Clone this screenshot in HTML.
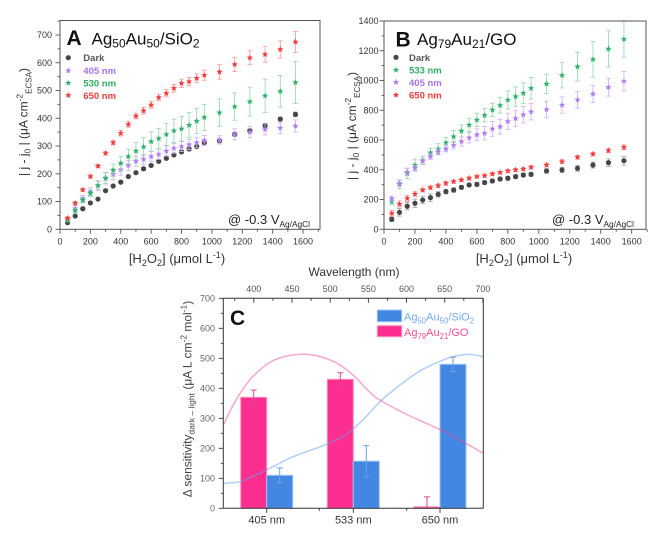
<!DOCTYPE html>
<html><head><meta charset="utf-8">
<style>
html,body{margin:0;padding:0;background:#fff;}
svg{display:block;font-family:"Liberation Sans",Arial,sans-serif;}
</style></head>
<body>
<svg id="s" xmlns="http://www.w3.org/2000/svg" width="667" height="539" viewBox="0 0 667 539">
<rect x="0" y="0" width="667" height="539" fill="#fff"/>
<g id="plots"></g>

<!-- Panel A frame -->
<rect x="60" y="20.5" width="260" height="208.8" fill="none" stroke="#555" stroke-width="1"/>
<!-- Panel B frame -->
<rect x="384" y="21" width="262" height="208.3" fill="none" stroke="#555" stroke-width="1"/>

<!-- Panel A texts -->
<text x="66.5" y="45" font-size="21" font-weight="bold" fill="#111">A</text>
<text x="91.5" y="44.3" font-size="17" fill="#111">Ag<tspan font-size="12" dy="3">50</tspan><tspan dy="-3">Au</tspan><tspan font-size="12" dy="3">50</tspan><tspan dy="-3">/SiO</tspan><tspan font-size="12" dy="3">2</tspan></text>
<g font-size="9.5" font-weight="bold">
<text x="83.3" y="61" fill="#555">Dark</text>
<text x="83.3" y="74" fill="#a874e8">405 nm</text>
<text x="83.3" y="86.5" fill="#2fae62">530 nm</text>
<text x="83.3" y="98.8" fill="#f03a3a">650 nm</text>
</g>
<text x="228" y="224" font-size="13" fill="#222">@ -0.3 V<tspan font-size="8.3" dy="3">Ag/AgCl</tspan></text>
<g font-size="9" fill="#333" text-anchor="end">
<text x="52" y="232.5">0</text><text x="52" y="204.7">100</text><text x="52" y="177">200</text><text x="52" y="149.2">300</text><text x="52" y="121.5">400</text><text x="52" y="93.7">500</text><text x="52" y="65.9">600</text><text x="52" y="38.2">700</text>
</g>
<g font-size="9" fill="#333" text-anchor="middle">
<text x="60" y="244.5">0</text><text x="90.4" y="244.5">200</text><text x="120.8" y="244.5">400</text><text x="151.1" y="244.5">600</text><text x="181.5" y="244.5">800</text><text x="211.9" y="244.5">1000</text><text x="242.3" y="244.5">1200</text><text x="272.7" y="244.5">1400</text><text x="303" y="244.5">1600</text>
</g>
<text x="177" y="263" font-size="13" fill="#333" text-anchor="middle">[H<tspan font-size="9" dy="3">2</tspan><tspan dy="-3">O</tspan><tspan font-size="9" dy="3">2</tspan><tspan dy="-3">] (μmol L</tspan><tspan font-size="9" dy="-5">-1</tspan><tspan dy="5">)</tspan></text>
<text transform="translate(27.5,122) rotate(-90)" font-size="12" fill="#333" text-anchor="middle">| j - j<tspan font-size="8.5" dy="3">0</tspan><tspan dy="-3"> | (μA cm</tspan><tspan font-size="8.5" dy="-5">-2</tspan><tspan font-size="8" dy="9">ECSA</tspan><tspan dy="-4">)</tspan></text>

<!-- Panel B texts -->
<text x="395.5" y="46.5" font-size="21" font-weight="bold" fill="#111">B</text>
<text x="417" y="45" font-size="17" fill="#111">Ag<tspan font-size="12" dy="3">79</tspan><tspan dy="-3">Au</tspan><tspan font-size="12" dy="3">21</tspan><tspan dy="-3">/GO</tspan></text>
<g font-size="9.5" font-weight="bold">
<text x="409" y="60.8" fill="#555">Dark</text>
<text x="409" y="73.5" fill="#2fae62">533 nm</text>
<text x="409" y="85.8" fill="#a874e8">405 nm</text>
<text x="409" y="98.5" fill="#f03a3a">650 nm</text>
</g>
<text x="552" y="224" font-size="13" fill="#222">@ -0.3 V<tspan font-size="8.3" dy="3">Ag/AgCl</tspan></text>
<g font-size="9" fill="#333" text-anchor="end">
<text x="378.5" y="232.5">0</text><text x="378.5" y="202.7">200</text><text x="378.5" y="173">400</text><text x="378.5" y="143.2">600</text><text x="378.5" y="113.5">800</text><text x="378.5" y="83.7">1000</text><text x="378.5" y="53.9">1200</text><text x="378.5" y="24.2">1400</text>
</g>
<g font-size="9" fill="#333" text-anchor="middle">
<text x="384" y="244.5">0</text><text x="415" y="244.5">200</text><text x="445.9" y="244.5">400</text><text x="476.9" y="244.5">600</text><text x="507.8" y="244.5">800</text><text x="538.8" y="244.5">1000</text><text x="569.8" y="244.5">1200</text><text x="600.7" y="244.5">1400</text><text x="631.7" y="244.5">1600</text>
</g>
<text x="524" y="263" font-size="13" fill="#333" text-anchor="middle">[H<tspan font-size="9" dy="3">2</tspan><tspan dy="-3">O</tspan><tspan font-size="9" dy="3">2</tspan><tspan dy="-3">] (μmol L</tspan><tspan font-size="9" dy="-5">-1</tspan><tspan dy="5">)</tspan></text>
<text transform="translate(356,126) rotate(-90)" font-size="12" fill="#333" text-anchor="middle">| j - j<tspan font-size="8.5" dy="3">0</tspan><tspan dy="-3"> | (μA cm</tspan><tspan font-size="8.5" dy="-5">-2</tspan><tspan font-size="8" dy="9">ECSA</tspan><tspan dy="-4">)</tspan></text>

<!-- Panel C texts -->
<text x="354" y="276" font-size="12" fill="#333" text-anchor="middle">Wavelength (nm)</text>
<g font-size="9" fill="#555" text-anchor="middle">
<text x="253.8" y="292">400</text><text x="292" y="292">450</text><text x="330.2" y="292">500</text><text x="368.4" y="292">550</text><text x="406.5" y="292">600</text><text x="444.7" y="292">650</text><text x="482.9" y="292">700</text>
</g>
<g font-size="9" fill="#666" text-anchor="end">
<text x="215" y="511.5">0</text><text x="215" y="481.5">100</text><text x="215" y="451.5">200</text><text x="215" y="421.5">300</text><text x="215" y="391.5">400</text><text x="215" y="361.5">500</text><text x="215" y="331.5">600</text><text x="215" y="301.5">700</text>
</g>
<g font-size="11" fill="#333" text-anchor="middle">
<text x="266.7" y="523.5">405 nm</text><text x="353.3" y="523.5">533 nm</text><text x="440" y="523.5">650 nm</text>
</g>
<text transform="translate(191.7,399) rotate(-90)" font-size="12" fill="#444" text-anchor="middle">Δ sensitivity<tspan font-size="8.5" dy="3">dark – light</tspan><tspan dy="-3"> (μA L cm</tspan><tspan font-size="8.5" dy="-5">-2</tspan><tspan dy="5"> mol</tspan><tspan font-size="8.5" dy="-5">-1</tspan><tspan dy="5">)</tspan></text>
<g id="cplot"></g>
<text x="230" y="325" font-size="21" font-weight="bold" fill="#111">C</text>
<rect x="377.3" y="310" width="24.4" height="11.7" fill="#4287e2" stroke="#9cc3f3" stroke-width="1"/>
<rect x="377.3" y="325.7" width="24.4" height="11" fill="#fc2e90" stroke="#ff8fc0" stroke-width="1"/>
<text x="404" y="320.3" font-size="11" fill="#72a9ee">Ag<tspan font-size="7.8" dy="3">50</tspan><tspan dy="-3">Au</tspan><tspan font-size="7.8" dy="3">50</tspan><tspan dy="-3">/SiO</tspan><tspan font-size="7.8" dy="3">2</tspan></text>
<text x="404" y="335.8" font-size="11" fill="#f0509c">Ag<tspan font-size="7.8" dy="3">79</tspan><tspan dy="-3">Au</tspan><tspan font-size="7.8" dy="3">21</tspan><tspan dy="-3">/GO</tspan></text>
</svg>
<script>
(function(){
var NS='http://www.w3.org/2000/svg';
var G=document.getElementById('plots');
var CG=document.getElementById('cplot');
function add(p,tag,a){var e=document.createElementNS(NS,tag);for(var k in a)e.setAttribute(k,a[k]);p.appendChild(e);return e;}
function ln(p,x1,y1,x2,y2,c,w){add(p,'line',{x1:x1,y1:y1,x2:x2,y2:y2,stroke:c,'stroke-width':w||1});}
function star(cx,cy,R,c){var pts=[];for(var i=0;i<10;i++){var a=(-90+i*36)*Math.PI/180;var r=i%2?R*0.42:R;pts.push((cx+r*Math.cos(a)).toFixed(2)+','+(cy+r*Math.sin(a)).toFixed(2));}add(G,'polygon',{points:pts.join(' '),fill:c});}
var xs=[];for(var u=50;u<=950;u+=50)xs.push(u);[1050,1150,1250,1350,1450,1550].forEach(function(v){xs.push(v);});
function series(X,Y,vals,errs,type,c,ec){
  vals.forEach(function(v,i){var x=X(xs[i]);var e=errs[i];var y1=Y(v+e),y2=Y(v-e);
    ln(G,x,y1,x,y2,ec,0.8);ln(G,x-2.4,y1,x+2.4,y1,ec,0.8);ln(G,x-2.4,y2,x+2.4,y2,ec,0.8);});
  vals.forEach(function(v,i){var x=X(xs[i]),y=Y(v);
    if(type==='c')add(G,'circle',{cx:x,cy:y,r:2.6,fill:c});else star(x,y,3.4,c);});
}
// Panel A
var AX=function(u){return 60+u*0.1519;},AY=function(v){return 229.3-v*0.2776;};
var aDark=[24,48,74,95,109,139,156,170,190,204,218,230,245,256,268,279,289,298,312,319,342,355,374,397,414];
var aDarkE=[3,4,4,4,4,4,4,4,4,4,4,4,4,4,4,5,5,5,5,6,6,6,7,7,8];
var aPur=[35,75,110,135,157,183,198,215,230,245,252,262,270,282,292,298,305,312,320,322,342,350,360,365,372];
var aPurE=[8,10,12,15,18,20,20,20,18,18,18,18,18,18,18,18,18,18,18,15,20,20,20,20,22];
var aGrn=[32,68,105,130,158,185,213,238,262,282,297,316,327,342,355,362,375,390,403,420,442,460,481,497,529];
var aGrnE=[5,8,10,12,15,20,22,25,27,30,33,35,37,40,42,44,45,46,47,49,49,52,60,57,76];
var aRed=[40,94,142,190,228,274,312,346,378,408,427,448,475,490,508,526,532,544,555,567,594,618,630,648,675];
var aRedE=[5,6,6,6,6,6,8,10,10,10,12,12,12,13,14,15,15,16,18,26,26,25,28,31,38];
series(AX,AY,aDark,aDarkE,'c','#464646','#a0a0a0');
series(AX,AY,aPur,aPurE,'s','#b07ef0','#cfaef5');
series(AX,AY,aGrn,aGrnE,'s','#2fb36a','#93d6ad');
series(AX,AY,aRed,aRedE,'s','#f23c3c','#f59a9a');
add(G,'circle',{cx:68.3,cy:57.7,r:2.6,fill:'#464646'});
star(68.3,70.7,3.4,'#b07ef0');star(68.3,83,3.4,'#2fb36a');star(68.3,95.3,3.4,'#f23c3c');
// Panel B
var BX=function(u){return 384+u*0.1548;},BY=function(v){return 229.3-v*0.1488;};
var bDark=[67,114,155,175,197,213,235,253,264,282,298,302,314,325,338,343,354,365,369,392,399,410,432,448,461];
var bDarkE=[15,25,25,28,25,25,18,15,15,12,12,12,12,12,12,12,12,12,12,15,18,20,20,25,30];
var bRed=[107,170,208,237,264,280,293,309,320,331,343,354,360,372,381,392,399,405,417,432,455,484,506,529,551];
var bRedE=[20,20,20,15,12,12,12,12,10,10,10,10,10,10,10,10,10,10,12,12,12,12,12,15,15];
var bGrn=[186,302,376,432,462,515,540,582,623,661,701,735,766,802,833,869,892,914,948,977,1035,1093,1142,1212,1277];
var bGrnE=[20,30,35,40,30,30,35,35,40,40,45,45,45,45,52,60,65,70,73,65,85,97,120,122,120];
var bPur=[205,308,385,410,460,490,520,540,565,590,615,635,645,675,690,725,745,770,790,805,835,870,910,955,995];
var bPurE=[15,20,25,20,20,20,20,20,25,30,35,40,45,50,50,55,55,55,55,55,55,55,58,60,65];
series(BX,BY,bDark,bDarkE,'c','#464646','#a0a0a0');
series(BX,BY,bGrn,bGrnE,'s','#2fb36a','#93d6ad');
series(BX,BY,bPur,bPurE,'s','#b07ef0','#cfaef5');
series(BX,BY,bRed,bRedE,'s','#f23c3c','#f59a9a');
add(G,'circle',{cx:396,cy:57.3,r:2.6,fill:'#464646'});
star(396,70,3.4,'#2fb36a');star(396,82.3,3.4,'#b07ef0');star(396,95,3.4,'#f23c3c');
// Axis ticks A
var ac='#555';
for(var v=0;v<=750;v+=50){var y=AY(v);ln(G,60,y,v%100===0?55.5:57.5,y,ac,0.9);}
for(var u=0;u<=1700;u+=100){var x=AX(u);ln(G,x,229.3,x,u%200===0?233.8:231.8,ac,0.9);}
// Axis ticks B
for(var v=0;v<=1400;v+=100){var y=BY(v);ln(G,384,y,v%200===0?379.5:381.5,y,ac,0.9);}
for(var u=0;u<=1700;u+=100){var x=BX(u);ln(G,x,229.3,x,u%200===0?233.8:231.8,ac,0.9);}
// Panel C
var CX=function(w){return 223.3+(w-360)*0.7635;},CY=function(v){return 508.3-0.3*v;};
function bar(x0,v,fill,edge){add(CG,'rect',{x:x0,y:CY(v),width:26,height:Math.max(508.3-CY(v),0.8),fill:fill,stroke:edge,'stroke-width':1});}
function ebar(x,v,e,c){var y1=CY(v+e),y2=Math.min(CY(v-e),508.3);ln(CG,x,y1,x,y2,c,1);ln(CG,x-3,y1,x+3,y1,c,1);if(v-e>0)ln(CG,x-3,y2,x+3,y2,c,1);}
var pk='#fc2e90',pke='#ff8fc0',bl='#4287e2',ble='#9cc3f3';
bar(240.7,370,pk,pke);bar(266.7,110,bl,ble);
bar(327.3,430,pk,pke);bar(353.3,157,bl,ble);
bar(414,5,pk,pke);bar(440,480,bl,ble);
ebar(253.7,370,24,'#e0448c');ebar(279.7,110,25,'#6aa3ea');
ebar(340.3,430,22,'#e0448c');ebar(366.3,157,52,'#6aa3ea');
ebar(427,5,33,'#e0448c');ebar(453,480,24,'#6aa3ea');
function curve(pts,c){var s=pts.map(function(p){return CX(p[0]).toFixed(2)+','+CY(p[1]).toFixed(2);}).join(' ');add(CG,'polyline',{points:s,fill:'none',stroke:c,'stroke-width':1.5,'stroke-linejoin':'round'});}
function smooth(pts){var out=[];for(var i=0;i<pts.length-1;i++){var p0=pts[Math.max(i-1,0)],p1=pts[i],p2=pts[i+1],p3=pts[Math.min(i+2,pts.length-1)];for(var t=0;t<1;t+=0.1){var t2=t*t,t3=t2*t;var f=function(a,b,c,d){return 0.5*((2*b)+(-a+c)*t+(2*a-5*b+4*c-d)*t2+(-a+3*b-3*c+d)*t3);};out.push([f(p0[0],p1[0],p2[0],p3[0]),f(p0[1],p1[1],p2[1],p3[1])]);}}out.push(pts[pts.length-1]);return out;}
var pinkC=[[360,277],[370,330],[380,375],[390,412],[400,443],[420,485],[440,506],[460,513],[470,513],[480,510],[490,503],[500,494],[510,482],[520,465],[533,437],[545,405],[555,380],[565,361],[600,313],[650,255],[700,184]];
var blueC=[[360,83],[370,85],[382,89],[395,103],[412,122],[430,145],[447,167],[467,187],[487,205],[505,225],[522,248],[545,300],[565,355],[587,402],[609,444],[625,468],[643,489],[660,505],[679,513],[690,511],[700,505]];
curve(smooth(pinkC),'rgba(240,80,150,0.5)');
curve(smooth(blueC),'rgba(100,160,235,0.5)');
// C axes
var cc='#333';
ln(CG,223.3,298.3,483.3,298.3,cc,1);ln(CG,223.3,508.3,483.3,508.3,cc,1);
ln(CG,223.3,298.3,223.3,508.3,cc,1);ln(CG,483.3,298.3,483.3,508.3,cc,1);
for(var v=0;v<=700;v+=50){var y=CY(v);ln(CG,223.3,y,v%100===0?218.8:220.8,y,cc,0.9);}
for(var w=375;w<=700;w+=25){var x=CX(w);ln(CG,x,298.3,x,w%50===0?302.8:300.8,cc,0.9);}
[266.7,353.3,440].forEach(function(x){ln(CG,x,508.3,x,512.8,cc,0.9);});
[319.3,406.7].forEach(function(x){ln(CG,x,508.3,x,510.8,cc,0.9);});
})();
</script>
</body></html>
